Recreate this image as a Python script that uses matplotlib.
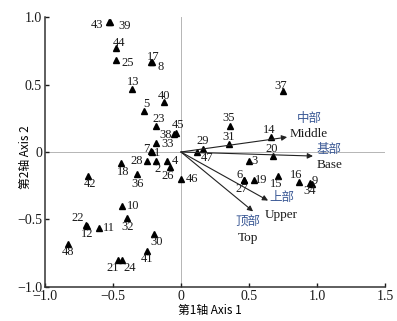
import matplotlib
matplotlib.use("Agg")
import matplotlib.pyplot as plt

plt.rcParams['font.family'] = ['Liberation Serif', 'Noto Sans CJK SC', 'DejaVu Sans']
plt.rcParams['axes.unicode_minus'] = True

# Sample (species) scores
labels = ['43', '39', '44', '25', '17', '8', '13', '5', '40', '23', '45', '38', '33', '7', '1',
          '28', '2', '4', '26', '18', '36', '42', '46', '10', '32', '22', '12', '11', '48', '30',
          '41', '21', '24', '37', '35', '31', '14', '29', '20', '47', '3', '6', '27', '19', '15',
          '16', '9', '34']
xs = [-0.53, -0.52, -0.48, -0.48, -0.22, -0.21, -0.36, -0.27, -0.125, -0.18, -0.04, -0.05, -0.18, -0.22, -0.21,
      -0.25, -0.18, -0.10, -0.08, -0.44, -0.32, -0.68, 0.00, -0.43, -0.40, -0.70, -0.69, -0.60, -0.83, -0.20,
      -0.25, -0.46, -0.43, 0.75, 0.36, 0.35, 0.66, 0.16, 0.68, 0.12, 0.50, 0.46, 0.46, 0.54, 0.71,
      0.87, 0.96, 0.95]
ys = [0.96, 0.96, 0.77, 0.68, 0.67, 0.67, 0.47, 0.30, 0.37, 0.19, 0.14, 0.13, 0.07, 0.01, 0.00,
      -0.07, -0.07, -0.07, -0.11, -0.08, -0.16, -0.18, -0.20, -0.40, -0.49, -0.54, -0.55, -0.56, -0.68, -0.61,
      -0.73, -0.80, -0.80, 0.45, 0.19, 0.06, 0.11, 0.02, -0.03, 0.00, -0.07, -0.21, -0.21, -0.21, -0.18,
      -0.22, -0.24, -0.23]

# Environmental vectors (position on tree)
vec_names_cn = ['中部', '基部', '上部', '顶部']
vec_names_en = ['Middle', 'Base', 'Upper', 'Top']
vec_x = [0.78, 0.97, 0.64, 0.53]
vec_y = [0.11, -0.03, -0.36, -0.44]

xticks = [-1.0, -0.5, 0, 0.5, 1.0, 1.5]
xticklabels = ['−1.0', '−0.5', '0', '0.5', '1.0', '1.5']
yticks = [-1.0, -0.5, 0, 0.5, 1.0]
yticklabels = ['−1.0', '−0.5', '0', '0.5', '1.0']

# label offsets in pixels (dx right, dy up)
label_off = {
    '43': (-12, -3), '39': (14, -4), '44': (3, 5), '25': (12, -3), '17': (2, 5), '8': (8, -5),
    '13': (1, 7), '5': (2, 7), '40': (0, 6), '23': (2, 7), '45': (2, 8), '38': (-9, -1),
    '33': (11, -1), '7': (-5, 2), '1': (5, -1), '28': (-10, 0), '2': (1, -8), '4': (8, 0),
    '26': (-2, -9), '18': (2, -9), '36': (0, -10), '42': (2, -8), '46': (11, 0), '10': (11, 0),
    '32': (1, -9), '22': (-8, 7), '12': (0, -8), '11': (10, 0), '48': (0, -8), '30': (3, -8),
    '41': (0, -8), '21': (-6, -8), '24': (7, -8), '37': (-2, 5), '35': (-1, 8), '31': (0, 7),
    '14': (-2, 7), '29': (0, 8), '20': (-2, 7), '47': (10, -6), '3': (6, 0), '6': (-4, 5),
    '27': (-2, -9), '19': (7, 0), '15': (-1, -8), '16': (-3, 7), '9': (3, 3), '34': (-1, -8),
}
cn_pos = [(0.94, 0.25), (1.09, 0.02), (0.74, -0.34), (0.49, -0.52)]
en_pos = [(0.94, 0.13), (1.09, -0.10), (0.74, -0.47), (0.49, -0.64)]

fig = plt.figure(figsize=(3.97, 3.21), dpi=100)
ax = fig.add_axes([0.113, 0.106, 0.857, 0.841])
ax.set_xlim(-1.0, 1.5)
ax.set_ylim(-1.0, 1.0)

ax.axhline(0, color='#b5b5b5', lw=0.7, zorder=0)
ax.axvline(0, color='#b5b5b5', lw=0.7, zorder=0)

ax.plot(xs, ys, linestyle='none', marker='^', color='black', markersize=5, zorder=3)
for lab, x, y in zip(labels, xs, ys):
    dx, dy = label_off.get(lab, (0, 7))
    ax.annotate(lab, (x, y), xytext=(dx * 0.72, dy * 0.72), textcoords='offset points',
                ha='center', va='center', fontsize=9, color='#1a1a1a',
                family=['Liberation Serif'])

for cn, en, vx, vy, (cx, cy), (ex, ey) in zip(vec_names_cn, vec_names_en, vec_x, vec_y, cn_pos, en_pos):
    ax.annotate('', xy=(vx, vy), xytext=(0, 0),
                arrowprops=dict(arrowstyle='-|>', color='#222222', lw=0.8,
                                mutation_scale=8, shrinkA=0, shrinkB=0))
    ax.text(cx, cy, cn, ha='center', va='center', fontsize=9, color='#3c5a96',
            family=['Noto Sans CJK SC'])
    ax.text(ex, ey, en, ha='center', va='center', fontsize=9.5, color='#1a1a1a',
            family=['Liberation Serif'])

ax.spines['top'].set_visible(False)
ax.spines['right'].set_visible(False)
for s in ('left', 'bottom'):
    ax.spines[s].set_linewidth(1.1)
    ax.spines[s].set_color('#333333')

ax.set_xticks(xticks)
ax.set_xticklabels(xticklabels)
ax.set_yticks(yticks)
ax.set_yticklabels(yticklabels)
ax.tick_params(direction='in', length=3, width=1.0, labelsize=10, pad=2, colors='#1a1a1a')

ax.set_xlabel('第1轴 Axis 1', fontsize=8.5,
              family=['Noto Sans CJK SC', 'Liberation Serif'])
ax.set_ylabel('第2轴 Axis 2', fontsize=8.5,
              family=['Noto Sans CJK SC', 'Liberation Serif'])
ax.xaxis.set_label_coords(0.485, -0.063)
ax.yaxis.set_label_coords(-0.037, 0.48)

fig.savefig('out.png', dpi=100)
